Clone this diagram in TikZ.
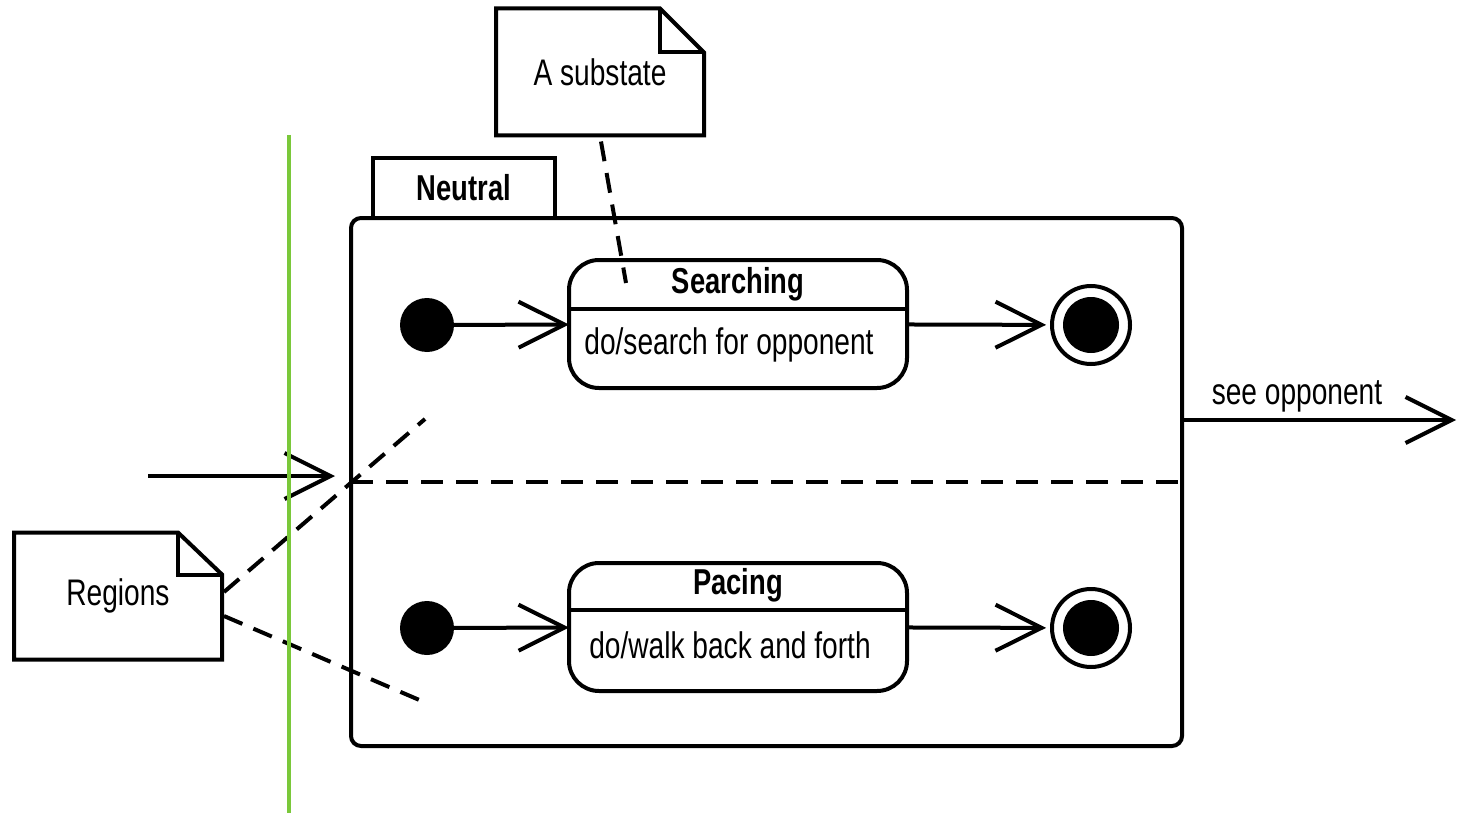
\documentclass[tikz,border=0pt]{standalone}
\usepackage{fontspec}
\setmainfont{Liberation Sans}[FakeStretch=0.76]
\usetikzlibrary{arrows.meta,calc}
\definecolor{regionline}{RGB}{122,200,58}
\begin{document}
\begin{tikzpicture}[x=1pt,y=-1pt,
  line width=4pt,
  every node/.style={inner sep=0pt, outer sep=0pt},
  txt/.style={font=\fontsize{37}{40}\selectfont},
  boldtxt/.style={font=\fontsize{36}{40}\selectfont\bfseries},
  statebox/.style={draw, rounded corners=30pt, minimum width=338pt, minimum height=128pt},
  initial/.style={circle, fill, minimum size=54pt},
  finalring/.style={circle, draw, minimum size=78pt},
  finaldot/.style={circle, fill, minimum size=56pt},
  notebox/.style={minimum width=208pt, minimum height=127pt, txt},
  barb/.style={-{Straight Barb[length=46pt,width=46pt,line width=4pt]}},
  dashline/.style={dash pattern=on 22pt off 13pt},
  notelink/.style={dash pattern=on 20pt off 12pt},
]
\useasboundingbox (0,0) rectangle (1458,813);

% composite state "Neutral"
\node[draw, rounded corners=10pt, minimum width=831pt, minimum height=528pt] (neutral) at (766.5,482) {};
\node[minimum width=182pt, minimum height=60pt, boldtxt] (tab) at (464,188) {Neutral};
\draw (tab.south west) -- (tab.north west) -- (tab.north east) -- (tab.south east);
\draw[dashline] (neutral.west) -- (neutral.east);

% upper region
\node[initial] (i1) at (427,325) {};
\node[statebox] (s) at (738,324) {};
\draw[line width=3.5pt] ($(s.north west)+(0,49)$) -- ($(s.north east)+(0,49)$);
\node[boldtxt] (stitle) at (738,284) {Searching};
\node[txt] (sbody) at (729,345) {do/search for opponent};
\node[finalring] (f1) at (1091,325) {};
\node[finaldot] (f1dot) at (f1) {};
\draw[barb] (i1) -- (s);
\draw[barb, shorten >=6pt] (s) -- (f1);

% lower region
\node[initial] (i2) at (427,628) {};
\node[statebox] (p) at (738,627) {};
\draw[line width=3.5pt] ($(p.north west)+(0,47)$) -- ($(p.north east)+(0,47)$);
\node[boldtxt] (ptitle) at (738,585) {Pacing};
\node[txt] (pbody) at (730,645) {do/walk back and forth};
\node[finalring] (f2) at (1091,628) {};
\node[finaldot] (f2dot) at (f2) {};
\draw[barb] (i2) -- (p);
\draw[barb, shorten >=6pt] (p) -- (f2);

% incoming and outgoing transitions
\coordinate (src) at (148,476);
\coordinate (entry) at (335,476);
\draw[barb] (src) -- (entry);
\coordinate (exitpt) at ($(neutral.east)+(0,-62)$);
\coordinate (dest) at (1456,420);
\draw[barb] (exitpt) -- (dest);
\node[txt] (trig) at (1297,396) {see opponent};

% note: substate
\node[notebox] (sub) at (600,72) {A substate};
\draw (sub.south west) -- (sub.north west) -- ($(sub.north east)+(-44,0)$)
  -- ($(sub.north east)+(0,44)$) -- (sub.south east) -- cycle;
\draw ($(sub.north east)+(-44,0)$) |- ($(sub.north east)+(0,44)$);
\draw[notelink] ($(sub.south)+(1,6)$) -- ($(s.north west)+(57,23)$);

% note: regions
\node[notebox] (reg) at (118,596) {Regions};
\draw (reg.south west) -- (reg.north west) -- ($(reg.north east)+(-44,0)$)
  -- ($(reg.north east)+(0,42)$) -- (reg.south east) -- cycle;
\draw ($(reg.north east)+(-44,0)$) |- ($(reg.north east)+(0,42)$);
\coordinate (r1) at (425,419);
\coordinate (r2) at (424,702);
\draw[notelink] ($(reg.east)+(2,-4)$) -- (r1);
\draw[notelink] ($(reg.east)+(2,20)$) -- (r2);

% region boundary marker
\coordinate (gtop) at (289,135);
\coordinate (gbot) at (289,813);
\draw[regionline, line width=4.5pt] (gtop) -- (gbot);
\end{tikzpicture}
\end{document}
